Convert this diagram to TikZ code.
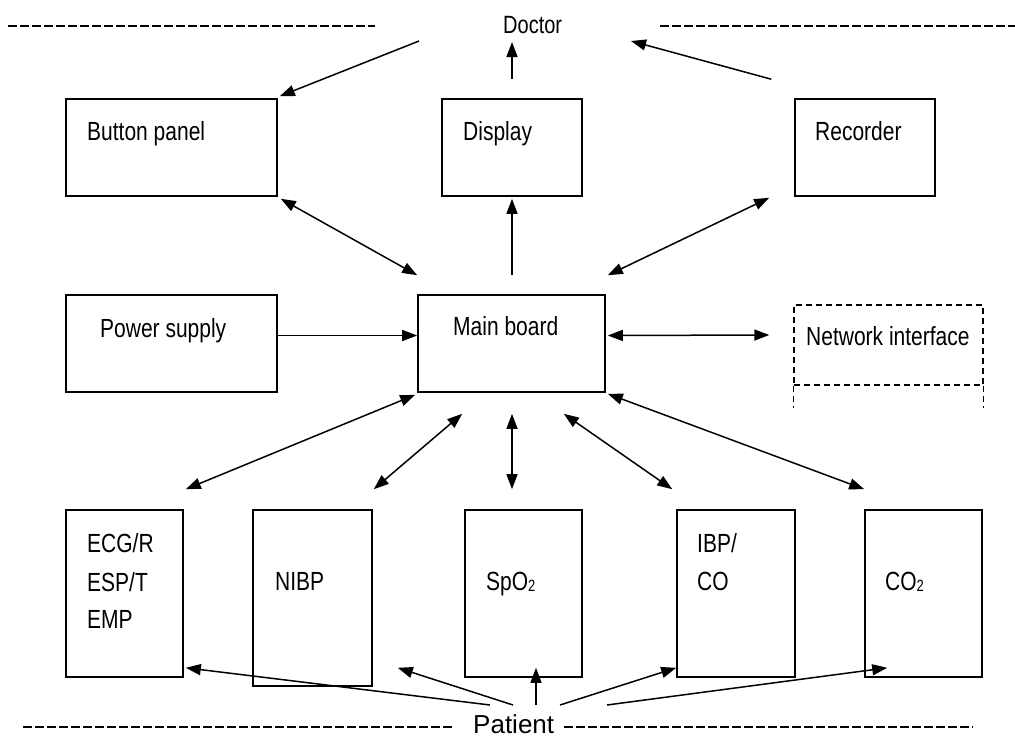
\documentclass[tikz,border=0pt]{standalone}
\usepackage{fontspec}
\setmainfont{Liberation Sans}
\usetikzlibrary{arrows.meta,calc}

% tall, narrow label lettering
\newcommand\lbl[1]{\scalebox{1}[1.25]{#1}}
\newcommand\subtwo{\raisebox{-1.5pt}{\fontsize{13}{13}\selectfont 2}}

\tikzset{
  box/.style={draw, rectangle, line width=1.6pt, inner sep=0pt},
  txt/.style={anchor=base west, inner sep=0pt, font=\fontsize{21}{25}\selectfont},
  arr/.style={line width=1.5pt, -{Triangle[length=15pt,width=11pt]}},
  biarr/.style={line width=1.5pt, {Triangle[length=15pt,width=11pt]}-{Triangle[length=15pt,width=11pt]}},
  sepline/.style={line width=1.6pt, dash pattern=on 9pt off 3pt},
  netline/.style={line width=1.4pt, dash pattern=on 6pt off 4pt},
}

\begin{document}
\begin{tikzpicture}[x=1pt,y=-1pt]
\useasboundingbox (0,0) rectangle (1015,737);

% ---------- top row ----------
\node[box, minimum width=211pt, minimum height=97pt] (btn)  at (171.5,147.5) {};
\node[box, minimum width=140pt, minimum height=97pt] (disp) at (512,147.5) {};
\node[box, minimum width=140pt, minimum height=97pt] (rec)  at (865,147.5) {};

% ---------- middle row ----------
\node[box, minimum width=211pt, minimum height=97pt] (pwr)  at (171.5,343.5) {};
\node[box, minimum width=187pt, minimum height=97pt] (main) at (511.5,343.5) {};
\node[draw, netline, rectangle, inner sep=0pt, minimum width=189pt, minimum height=80pt] (net) at (888.5,345) {};
\draw[netline] (net.south west) -- ++(0,22);
\draw[netline] (net.south east) -- ++(0,22);

% ---------- bottom row ----------
\node[box, minimum width=117pt, minimum height=167pt] (ecg)  at (124.5,593.5) {};
\node[box, minimum width=119pt, minimum height=176pt] (nibp) at (312.5,598) {};
\node[box, minimum width=117pt, minimum height=167pt] (spo)  at (523.5,593.5) {};
\node[box, minimum width=118pt, minimum height=167pt] (ibp)  at (736,593.5) {};
\node[box, minimum width=117pt, minimum height=167pt] (cot)  at (923.5,593.5) {};

% ---------- labels ----------
\node[txt, font=\fontsize{20}{24}\selectfont] (doctor) at (503,33) {\lbl{Doctor}};
\node[txt, font=\fontsize{26}{30}\selectfont] (patient) at (473,733) {Patient};

\node[txt] (tbtn)  at (87,140)  {\lbl{Button panel}};
\node[txt] (tdisp) at (463,140) {\lbl{Display}};
\node[txt] (trec)  at (815,140) {\lbl{Recorder}};
\node[txt] (tpwr)  at (100,337) {\lbl{Power supply}};
\node[txt] (tmain) at (453,335) {\lbl{Main board}};
\node[txt] (tnet)  at (806,345) {\lbl{Network interface}};
\node[txt] (tecga) at (87,552)  {\lbl{ECG/R}};
\node[txt] (tecgb) at (87,591)  {\lbl{ESP/T}};
\node[txt] (tecgc) at (87,628)  {\lbl{EMP}};
\node[txt] (tnibp) at (275,590) {\lbl{NIBP}};
\node[txt] (tspo)  at (486,590) {\lbl{SpO\subtwo}};
\node[txt] (tibpa) at (697,552) {\lbl{IBP/}};
\node[txt] (tibpb) at (697,590) {\lbl{CO}};
\node[txt] (tcot)  at (885,590) {\lbl{CO\subtwo}};

% ---------- separator lines ----------
\coordinate (sepTL) at (8,26);    \coordinate (sepTLe) at (375,26);
\coordinate (sepTR) at (660,26);  \coordinate (sepTRe) at (1015,26);
\coordinate (sepBL) at (23,727);  \coordinate (sepBLe) at (453,727);
\coordinate (sepBR) at (564,727); \coordinate (sepBRe) at (973,727);
\draw[sepline] (sepTL) -- (sepTLe);
\draw[sepline] (sepTR) -- (sepTRe);
\draw[sepline] (sepBL) -- (sepBLe);
\draw[sepline] (sepBR) -- (sepBRe);

% ---------- doctor connections ----------
\draw[arr] ($(doctor.base west)+(-84,8)$) -- ($(btn.north east)+(2,-2)$);
\draw[arr] ($(disp.north)+(0,-19)$) -- ($(doctor.base west)+(9,9)$);
\draw[arr] ($(rec.north west)+(-23,-19)$) -- ($(doctor.base west)+(128,8)$);

% ---------- main board connections ----------
\draw[biarr] ($(btn.south east)+(3,2)$) -- ($(main.north west)+(0,-19)$);
\draw[arr] ($(main.north)+(0.5,-19)$) -- ($(disp.south)+(0,2)$);
\draw[biarr] ($(main.north east)+(2,-19)$) -- ($(rec.south west)+(-25,1)$);
\draw[arr] ($(pwr.east)+(0,-8)$) -- ($(main.west)+(0,-8)$);
\draw[biarr] ($(main.east)+(2,-8)$) -- ($(net.west)+(-24,-10)$);

\draw[biarr] ($(main.south west)+(-2,2)$) -- ($(ecg.north east)+(2,-20)$);
\draw[biarr] ($(main.south west)+(45,21)$) -- ($(nibp.north east)+(1,-20)$);
\draw[biarr] ($(main.south)+(0.5,21)$) -- ($(spo.north)+(-11.5,-20)$);
\draw[biarr] ($(main.south east)+(-42,21)$) -- ($(ibp.north west)+(-4,-20)$);
\draw[biarr] ($(main.south east)+(2,1)$) -- ($(cot.north west)+(0,-20)$);

% ---------- patient connections ----------
\draw[arr] ($(patient.base west)+(17,-28)$) -- ($(ecg.south east)+(2,-10)$);
\draw[arr] ($(patient.base west)+(40,-28)$) -- ($(nibp.south east)+(25,-19)$);
\draw[arr] ($(patient.base west)+(63,-28)$) -- ($(spo.south)+(12.5,-10)$);
\draw[arr] ($(patient.base west)+(87,-28)$) -- ($(ibp.south west)+(0,-10)$);
\draw[arr] ($(patient.base west)+(134,-28)$) -- ($(cot.south west)+(23,-10)$);

\end{tikzpicture}
\end{document}
